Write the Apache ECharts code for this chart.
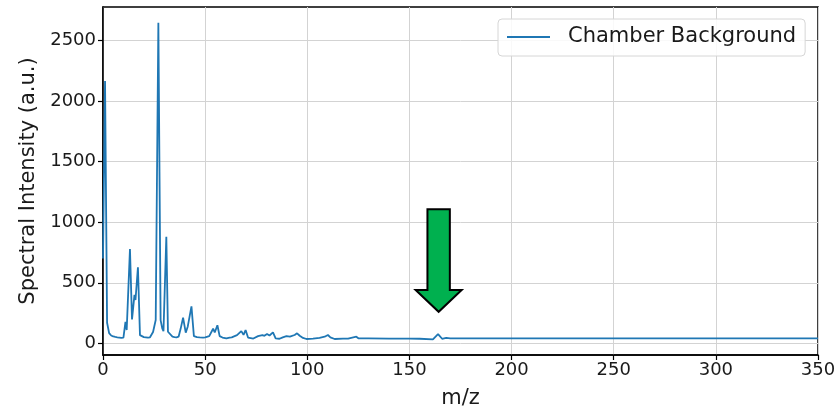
<!DOCTYPE html>
<html>
<head>
<meta charset="utf-8">
<script src="https://cdn.jsdelivr.net/npm/echarts@6/dist/echarts.min.js"></script>
<style>
  html, body { margin: 0; padding: 0; background: #fff; }
  #chart { width: 837px; height: 409px; }
</style>
</head>
<body>
<div id="chart"></div>
<script>
// Mass-to-charge positions and measured intensities of the chamber background scan
const mz = [
  0, 1, 2, 3, 4, 5, 6, 7, 8, 9, 10, 11, 11.6, 13.2, 14.2, 15.4, 15.9, 17.1, 18.1, 19,
  20, 21, 22, 23, 24.5, 25.8, 27.1, 28.2, 29, 29.6, 31, 31.8, 32.5, 34, 35, 36, 37, 38,
  39.2, 40.5, 41.5, 43.3, 44.5, 46, 47.3, 49, 50, 52, 53.9, 54.7, 56, 57.1, 58.5, 60.4,
  62, 63, 65.6, 66.5, 67.7, 68.8, 69.8, 71, 73.6, 75.9, 78, 79, 80.3, 81.5, 83.2, 84.5,
  86.4, 88, 89.8, 91.5, 93.8, 95, 96.3, 97.9, 99.6, 102.8, 106, 108.5, 110.1, 111.3,
  113.4, 117.5, 120, 124, 125, 130, 140, 150, 155, 161.5, 164, 166, 168, 170, 200,
  250, 300, 350
];
const intensity = [
  700, 2165, 170, 85, 65, 57, 53, 50, 48, 46, 47, 178, 110, 778, 198, 400, 358, 628, 68, 75,
  52, 50, 48, 50, 94, 193, 2647, 192, 124, 100, 880, 96, 80, 56, 52, 50, 55, 120,
  213, 88, 140, 306, 60, 52, 50, 48, 50, 60, 121, 90, 150, 60, 48, 41,
  48, 50, 68, 60, 101, 70, 110, 48, 40, 60, 69, 62, 77, 65, 91, 41,
  38, 50, 60, 55, 69, 83, 63, 45, 36, 40, 45, 55, 69, 50,
  36, 40, 40, 55, 42, 42, 40, 40, 38, 33, 77, 38, 45, 41, 42,
  42, 41, 42
];
const xTicks = [0, 50, 100, 150, 200, 250, 300, 350];
const yTicks = [0, 500, 1000, 1500, 2000, 2500];
const seriesName = 'Chamber Background';

// Down arrow pointing at the feature near m/z 164
const arrowMz = 164.3;
const arrowTipValue = 261;
const arrowTopValue = 1108;

const FONT = 'DejaVu Sans';
const chart = echarts.init(document.getElementById('chart'), null, { renderer: 'canvas' });

const option = {
  animation: false,
  backgroundColor: '#ffffff',
  grid: {
    left: 103, right: 19, top: 7, bottom: 54,
    containLabel: false, outerBoundsMode: 'none',
    show: true, borderColor: '#000', borderWidth: 1.5, backgroundColor: 'transparent'
  },
  legend: {
    data: [seriesName],
    left: 498, top: 19,
    padding: [6, 9, 7, 8],
    itemWidth: 43, itemHeight: 14,
    itemStyle: { opacity: 0 },
    backgroundColor: 'rgba(255,255,255,0.85)',
    borderColor: '#d6d6d6', borderWidth: 1, borderRadius: 4,
    textStyle: { fontFamily: FONT, fontSize: 21, color: '#1a1a1a', padding: [0, 0, 0, 13], lineHeight: 24 }
  },
  xAxis: {
    type: 'value',
    min: xTicks[0], max: xTicks[xTicks.length - 1], interval: 50,
    name: 'm/z', nameLocation: 'middle', nameGap: 33,
    nameTextStyle: { fontFamily: FONT, fontSize: 21, color: '#1a1a1a' },
    axisLine: { show: true, onZero: false, lineStyle: { color: '#000', width: 1.5 } },
    axisTick: { show: true, length: 5, lineStyle: { color: '#000', width: 1.2 } },
    axisLabel: { fontFamily: FONT, fontSize: 18, color: '#1a1a1a', margin: 6 },
    splitLine: { show: true, lineStyle: { color: '#d3d3d3', width: 1 } }
  },
  yAxis: {
    type: 'value',
    min: -96, max: 2777,
    name: 'Spectral Intensity (a.u.)', nameLocation: 'middle', nameGap: 55,
    nameTextStyle: { fontFamily: FONT, fontSize: 21, color: '#1a1a1a' },
    axisLine: { show: true, onZero: false, lineStyle: { color: '#000', width: 1.5 } },
    axisTick: { show: true, length: 5, customValues: yTicks, lineStyle: { color: '#000', width: 1.2 } },
    axisLabel: {
      fontFamily: FONT, fontSize: 18, color: '#1a1a1a', margin: 7, customValues: yTicks,
      formatter: (v) => String(v)
    },
    splitLine: { show: true, lineStyle: { color: '#d3d3d3', width: 1 } }
  },
  series: [{
    name: seriesName,
    type: 'line',
    data: mz.map((m, i) => [m, intensity[i]]),
    symbol: 'none',
    lineStyle: { color: '#1f77b4', width: 1.8 },
    itemStyle: { color: '#1f77b4' },
    z: 3
  }]
};
chart.setOption(option);

// Arrow geometry anchored to data coordinates
const tipPx = chart.convertToPixel({ gridIndex: 0 }, [arrowMz, arrowTipValue]);
const tailPx = chart.convertToPixel({ gridIndex: 0 }, [arrowMz, arrowTopValue]);
const shaftHalf = 11.2, headHalf = 23, headLen = 21.7;
const cx = tipPx[0];
const headY = tipPx[1] - headLen;
chart.setOption({
  graphic: [{
    type: 'polygon',
    z: 10,
    shape: {
      points: [
        [cx - shaftHalf, tailPx[1]], [cx + shaftHalf, tailPx[1]], [cx + shaftHalf, headY],
        [cx + headHalf, headY], [cx, tipPx[1]], [cx - headHalf, headY], [cx - shaftHalf, headY]
      ]
    },
    style: { fill: '#00b04f', stroke: '#000', lineWidth: 2, lineJoin: 'miter' }
  }]
});
</script>
</body>
</html>
